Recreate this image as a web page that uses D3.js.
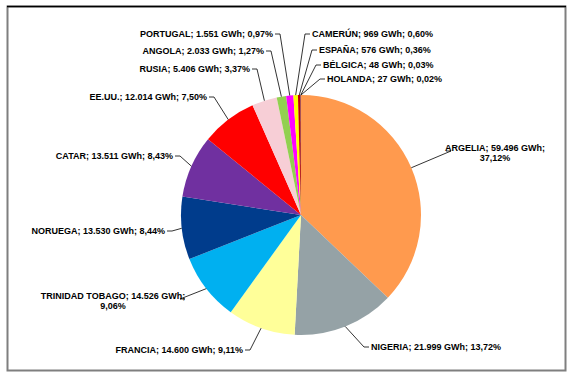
<!DOCTYPE html>
<html>
<head>
<meta charset="utf-8">
<script src="https://cdn.jsdelivr.net/npm/d3@7"></script>
<style>
  body { margin: 0; background: #fff; }
  svg text { font-family: "Liberation Sans", Arial, sans-serif; font-weight: bold; font-size: 9px; fill: #000; }
</style>
</head>
<body>
<div id="graf"></div>
<script>
// datos: importaciones de gas por país (GWh)
const paises = ['ARGELIA', 'NIGERIA', 'FRANCIA', 'TRINIDAD TOBAGO', 'NORUEGA', 'CATAR', 'EE.UU.',
  'RUSIA', 'ANGOLA', 'PORTUGAL', 'CAMERÚN', 'ESPAÑA', 'BÉLGICA', 'HOLANDA']
const gwh = [59496, 21999, 14600, 14526, 13530, 13511, 12014, 5406, 2033, 1551, 969, 576, 48, 27]
const colores = ['#FF9A4E', '#95A2A6', '#FFFF99', '#00B0F0', '#003C8C', '#7030A0', '#FF0000',
  '#F7CED6', '#92D050', '#FF00FF', '#FFFF00', '#C00000', '#0070C0', '#984807']

// colocacion de etiquetas (relativa al centro del pie): anchor, dx, dy, salto de linea
const etiquetas = [
  { a: 'middle', dx: 194, dy: -67, wrap: true, edge: 143 },
  { a: 'start', dx: 70, dy: 132 },
  { a: 'end', dx: -58, dy: 135 },
  { a: 'middle', dx: -188, dy: 81, wrap: true, edge: -114 },
  { a: 'end', dx: -136, dy: 16 },
  { a: 'end', dx: -128, dy: -59 },
  { a: 'end', dx: -94, dy: -118 },
  { a: 'end', dx: -51, dy: -146 },
  { a: 'end', dx: -37, dy: -164 },
  { a: 'end', dx: -28, dy: -181 },
  { a: 'start', dx: 11, dy: -181 },
  { a: 'start', dx: 18, dy: -165 },
  { a: 'start', dx: 22, dy: -150 },
  { a: 'start', dx: 26, dy: -136 }
]

const W = 579, H = 385
const cx = 301, cy = 215, R = 120

const es = d3.formatLocale({ decimal: ',', thousands: '.', grouping: [3], currency: ['', '€'] })
const fmtN = es.format(',d')
const fmtP = es.format('.2f')

const total = d3.sum(gwh)
const data = paises.map((p, i) => ({ pais: p, v: gwh[i], color: colores[i], lab: etiquetas[i] }))

const svg = d3.select('#graf').append('svg').attr('width', W).attr('height', H)

// marco
svg.append('rect').attr('x', 7.5).attr('y', 6.5).attr('width', 558).attr('height', 364)
  .attr('fill', 'none').attr('stroke', '#7f7f7f').attr('stroke-width', 2)
svg.append('line').attr('x1', 7).attr('x2', 566).attr('y1', 6.5).attr('y2', 6.5)
  .attr('stroke', '#000').attr('stroke-width', 1.5)

const pie = d3.pie().value(d => d.v).sort(null)
const arc = d3.arc().innerRadius(0).outerRadius(R)
const arcs = pie(data)

const g = svg.append('g').attr('transform', `translate(${cx}, ${cy})`)

g.selectAll('path.slice')
  .data(arcs)
  .enter()
  .append('path')
  .attr('class', 'slice')
  .attr('d', arc)
  .attr('fill', d => d.data.color)

// lineas guia + textos
arcs.forEach(d => {
  const L = d.data.lab
  const m = (d.startAngle + d.endAngle) / 2
  const p0 = [R * Math.sin(m), -R * Math.cos(m)]
  let ex, ey
  if (L.wrap) {
    ex = L.edge
    ey = L.dy + 3
  } else {
    ex = L.dx
    ey = L.dy
  }
  const dir = (L.a === 'start' || (L.wrap && L.edge > L.dx)) ? -1 : 1
  const tx = ex + dir * 2
  const elbow = ex + dir * 7
  g.append('polyline')
    .attr('points', [p0, [elbow, ey], [tx, ey]].map(p => p.join(',')).join(' '))
    .attr('fill', 'none')
    .attr('stroke', '#000')
    .attr('stroke-width', 0.8)

  const pct = fmtP(d.data.v / total * 100) + '%'
  const t = g.append('text')
    .attr('text-anchor', L.a)
    .attr('x', L.dx)
    .attr('y', L.dy)
    .attr('dy', '0.35em')
  if (L.wrap) {
    t.text(`${d.data.pais}; ${fmtN(d.data.v)} GWh;`)
    g.append('text')
      .attr('text-anchor', 'middle')
      .attr('x', L.dx)
      .attr('y', L.dy + 10)
      .attr('dy', '0.35em')
      .text(pct)
  } else {
    t.text(`${d.data.pais}; ${fmtN(d.data.v)} GWh; ${pct}`)
  }
})
</script>
</body>
</html>
